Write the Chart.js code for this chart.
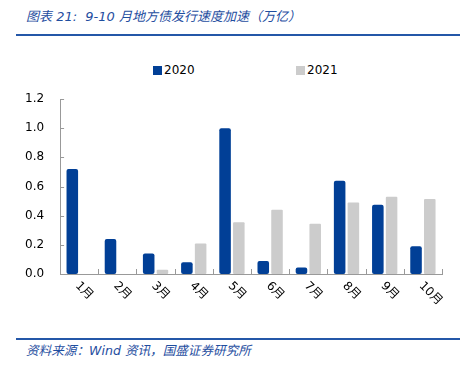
<!DOCTYPE html>
<html>
<head>
<meta charset="utf-8">
<script src="https://cdn.jsdelivr.net/npm/chart.js@4"></script>
<style>
  body { margin: 0; width: 468px; height: 372px; background: #fff; position: relative; overflow: hidden;
         font-family: "DejaVu Sans", "Noto Sans CJK SC", sans-serif; }
  .title { position: absolute; left: 26px; top: 6px; font-size: 13px; font-style: italic; color: #1F4E9F; white-space: nowrap; }
  .rule { position: absolute; left: 16px; width: 444px; background: #2457A8; }
  .legend { position: absolute; top: 63px; font-size: 12px; color: #000; }
  .legend i { display: inline-block; width: 9px; height: 9px; margin-right: 2px; vertical-align: -1px; }
  .source { position: absolute; left: 26px; top: 340px; font-size: 12.6px; font-style: italic; color: #1F4E9F; white-space: nowrap; }
  #wrap { position: absolute; left: 0; top: 80px; width: 468px; height: 250px; }
</style>
</head>
<body>
<div class="title">图表 21:&nbsp; 9-10 月地方债发行速度加速（万亿）</div>
<div class="rule" style="top:34px;height:2px"></div>
<div class="legend" style="left:153px"><i style="background:#013F96"></i>2020</div>
<div class="legend" style="left:296px"><i style="background:#CCCCCC"></i>2021</div>
<div id="wrap"><canvas id="chart"></canvas></div>
<div class="rule" style="top:338px;height:1.5px"></div>
<div class="source">资料来源：Wind 资讯，国盛证券研究所</div>
<script>
const categories = ['1月', '2月', '3月', '4月', '5月', '6月', '7月', '8月', '9月', '10月'];
const values2020 = [0.72, 0.24, 0.14, 0.08, 1.00, 0.09, 0.045, 0.64, 0.475, 0.19];
const values2021 = [0, 0, 0.03, 0.21, 0.355, 0.44, 0.345, 0.49, 0.53, 0.515];
const yTicks = [0, 0.2, 0.4, 0.6, 0.8, 1.0, 1.2];

// inside tick marks on both axes + rotated month labels
const axisDecor = {
  id: 'axisDecor',
  afterDraw(chart) {
    const ctx = chart.ctx;
    const xs = chart.scales.x;
    const ys = chart.scales.y;
    const step = xs.getPixelForValue(1) - xs.getPixelForValue(0);
    ctx.save();
    ctx.strokeStyle = '#999';
    ctx.lineWidth = 1;
    ctx.beginPath();
    for (let i = 0; i <= categories.length; i++) {
      const x = Math.round(xs.getPixelForValue(i) - step / 2) + 0.5;
      ctx.moveTo(x, ys.bottom);
      ctx.lineTo(x, ys.bottom - 5);
    }
    yTicks.forEach(v => {
      const y = Math.round(ys.getPixelForValue(v)) + 0.5;
      ctx.moveTo(xs.left, y);
      ctx.lineTo(xs.left + 4, y);
    });
    ctx.stroke();

    ctx.fillStyle = '#000';
    ctx.font = '12px "DejaVu Sans", "Noto Sans CJK SC", sans-serif';
    ctx.textAlign = 'left';
    ctx.textBaseline = 'middle';
    categories.forEach((c, i) => {
      ctx.save();
      ctx.translate(xs.getPixelForValue(i) - 2, ys.bottom + 10);
      ctx.rotate(Math.PI / 4);
      ctx.fillText(c, 0, 0);
      ctx.restore();
    });
    ctx.restore();
  }
};

new Chart(document.getElementById('chart'), {
  type: 'bar',
  data: {
    labels: categories,
    datasets: [
      { label: '2020', data: values2020, backgroundColor: '#013F96', borderRadius: 2, borderSkipped: false },
      { label: '2021', data: values2021, backgroundColor: '#CCCCCC', borderRadius: 1, borderSkipped: false }
    ]
  },
  options: {
    responsive: true,
    maintainAspectRatio: false,
    animation: false,
    layout: { padding: { left: 17, right: 26, top: 19, bottom: 48 } },
    datasets: { bar: { categoryPercentage: 0.72, barPercentage: 0.84 } },
    plugins: { legend: { display: false }, tooltip: { enabled: false } },
    scales: {
      x: {
        grid: { display: false },
        border: { color: '#999' },
        ticks: { display: false }
      },
      y: {
        min: 0,
        max: 1.2,
        grid: { display: false },
        border: { color: '#999' },
        ticks: {
          stepSize: 0.2,
          padding: 8,
          color: '#000',
          font: { family: '"DejaVu Sans", sans-serif', size: 12 },
          callback: v => v.toFixed(1)
        }
      }
    }
  },
  plugins: [axisDecor]
});
</script>
</body>
</html>
